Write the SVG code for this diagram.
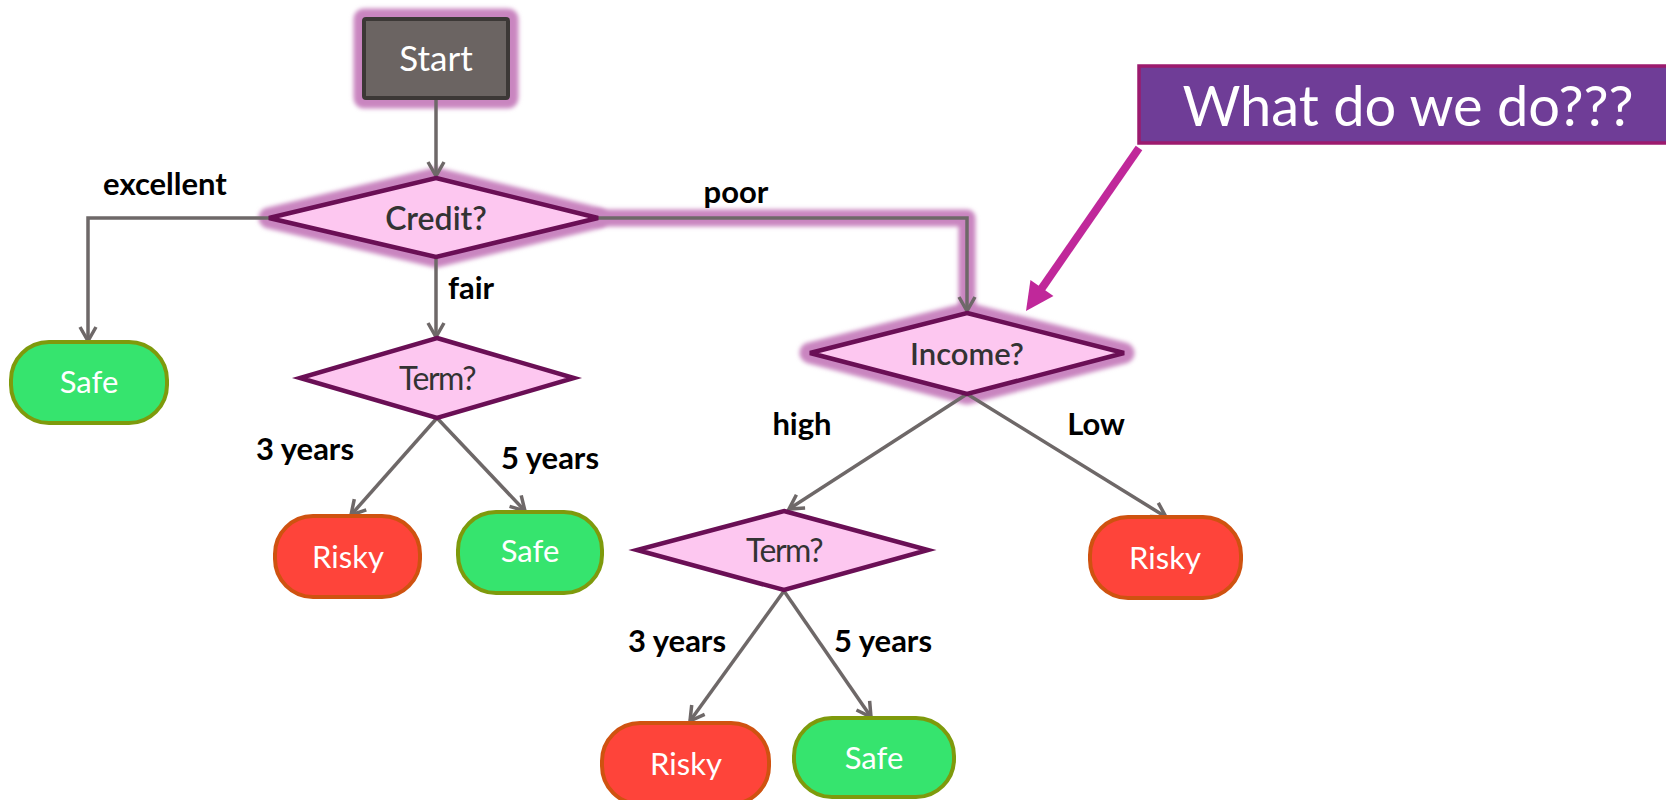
<svg xmlns="http://www.w3.org/2000/svg" width="1666" height="800" viewBox="0 0 1666 800">
  <defs>
    <style>
      .glow { fill: none; stroke: #c985c0; stroke-width: 21; stroke-linejoin: round; stroke-linecap: round; filter: url(#soft); }
      .conn { fill: none; stroke: #6e6868; stroke-width: 3.5; marker-end: url(#arr); }
      .dia { fill: #fdc7f0; stroke: #6a0f55; stroke-width: 4.5; stroke-linejoin: miter; }
      .safe { fill: #36e46e; stroke: #7e9a0c; stroke-width: 4; }
      .risky { fill: #fe443a; stroke: #cf5210; stroke-width: 4; }
      .ntext { font-family: Lato, "Liberation Sans", sans-serif; font-size: 31px; fill: #ffffff; text-anchor: middle; dominant-baseline: central; }
      .qtext { font-family: Lato, "Liberation Sans", sans-serif; font-size: 31px; fill: #333333; text-anchor: middle; dominant-baseline: central; }
      .lbl { font-family: Lato, "Liberation Sans", sans-serif; font-size: 31px; font-weight: bold; fill: #000000; text-anchor: middle; dominant-baseline: central; }
    </style>
    <filter id="soft" x="-20%" y="-20%" width="140%" height="140%">
      <feGaussianBlur stdDeviation="2"/>
    </filter>
    <marker id="arr" viewBox="-17 -10 22 20" refX="0" refY="0" markerWidth="22" markerHeight="20" markerUnits="userSpaceOnUse" orient="auto">
      <path d="M-14,-8 L0,0 L-14,8" fill="none" stroke="#6e6868" stroke-width="3.5" stroke-linejoin="miter"/>
    </marker>
    <marker id="callout" viewBox="-10 -16 32 32" refX="0" refY="0" markerWidth="32" markerHeight="32" markerUnits="userSpaceOnUse" orient="auto">
      <path d="M20,0 L-8,-14 L-8,14 Z" fill="#c0289a"/>
    </marker>
  </defs>

  <rect width="1666" height="800" fill="#ffffff"/>

  <!-- highlighted path: halo under Start, Credit?, Income? and the links between them -->
  <g id="highlight">
    <rect x="364" y="19" width="144" height="79" class="glow"/>
    <polygon points="436,178 598,218 436,257 269,218" class="glow"/>
    <polygon points="967,313 1124,353 967,394 810,353" class="glow"/>
    <line x1="436" y1="99" x2="436" y2="172" class="glow" style="stroke-width:17px"/>
    <polyline points="598,218 967,218 967,308" class="glow" style="stroke-width:17px"/>
  </g>

  <!-- connectors -->
  <g id="connectors">
    <line x1="436" y1="99" x2="436" y2="176" class="conn"/>
    <polyline points="269,218 88,218 88,341" class="conn"/>
    <line x1="436" y1="257" x2="436" y2="337" class="conn"/>
    <polyline points="598,218 967,218 967,311" class="conn"/>
    <line x1="437" y1="418" x2="351" y2="515" class="conn"/>
    <line x1="437" y1="418" x2="525" y2="511" class="conn"/>
    <line x1="967" y1="394" x2="789" y2="509" class="conn"/>
    <line x1="967" y1="394" x2="1166" y2="517" class="conn"/>
    <line x1="784" y1="591" x2="690" y2="721" class="conn"/>
    <line x1="784" y1="591" x2="871" y2="717" class="conn"/>
    <line x1="1139" y1="148" x2="1037.4" y2="294.6" stroke="#c0289a" stroke-width="8" marker-end="url(#callout)"/>
  </g>

  <!-- edge labels -->
  <g id="labels">
    <text x="165" y="183" class="lbl">excellent</text>
    <text x="736" y="191" class="lbl">poor</text>
    <text x="471" y="287" class="lbl">fair</text>
    <text x="305" y="448" class="lbl">3 years</text>
    <text x="550" y="457" class="lbl">5 years</text>
    <text x="802" y="423" class="lbl">high</text>
    <text x="1096" y="423" class="lbl">Low</text>
    <text x="677" y="640" class="lbl">3 years</text>
    <text x="883" y="640" class="lbl">5 years</text>
  </g>

  <g id="start">
    <rect x="364" y="19" width="144" height="79" rx="2" fill="#6b6462" stroke="#3c3836" stroke-width="4"/>
    <text x="436" y="57" class="ntext" style="font-size:35px">Start</text>
  </g>

  <g id="credit">
    <polygon points="436,178 598,218 436,257 269,218" class="dia"/>
    <text x="436" y="217" class="qtext" style="font-size:32px;font-weight:600">Credit?</text>
  </g>

  <g id="safe-excellent">
    <rect x="11" y="342" width="156" height="81" rx="38" class="safe"/>
    <text x="89" y="381" class="ntext">Safe</text>
  </g>

  <g id="term-fair">
    <polygon points="437,338 574,378 437,418 300,378" class="dia"/>
    <text x="437" y="377" class="qtext" style="font-size:32px;letter-spacing:-1.5px">Term?</text>
  </g>

  <g id="risky-fair-3">
    <rect x="275" y="516" width="145" height="81" rx="38" class="risky"/>
    <text x="348" y="556" class="ntext">Risky</text>
  </g>

  <g id="safe-fair-5">
    <rect x="458" y="512" width="144" height="81" rx="38" class="safe"/>
    <text x="530" y="550" class="ntext">Safe</text>
  </g>

  <g id="income">
    <polygon points="967,313 1124,353 967,394 810,353" class="dia"/>
    <text x="967" y="353" class="qtext" style="font-weight:600">Income?</text>
  </g>

  <g id="term-high">
    <polygon points="784,511 928,550 784,590 637,550" class="dia"/>
    <text x="784" y="549" class="qtext" style="font-size:32px;letter-spacing:-1.5px">Term?</text>
  </g>

  <g id="risky-low">
    <rect x="1090" y="517" width="151" height="81" rx="38" class="risky"/>
    <text x="1165" y="557" class="ntext">Risky</text>
  </g>

  <g id="risky-high-3">
    <rect x="602" y="723" width="167" height="81" rx="38" class="risky"/>
    <text x="686" y="763" class="ntext">Risky</text>
  </g>

  <g id="safe-high-5">
    <rect x="794" y="718" width="160" height="79" rx="38" class="safe"/>
    <text x="874" y="757" class="ntext">Safe</text>
  </g>

  <g id="what-note">
    <rect x="1139" y="66" width="540" height="77" fill="#6f3d97" stroke="#9c1a6e" stroke-width="3.5"/>
    <text x="1408" y="104" class="ntext" style="font-size:56px">What do we do???</text>
  </g>
</svg>
